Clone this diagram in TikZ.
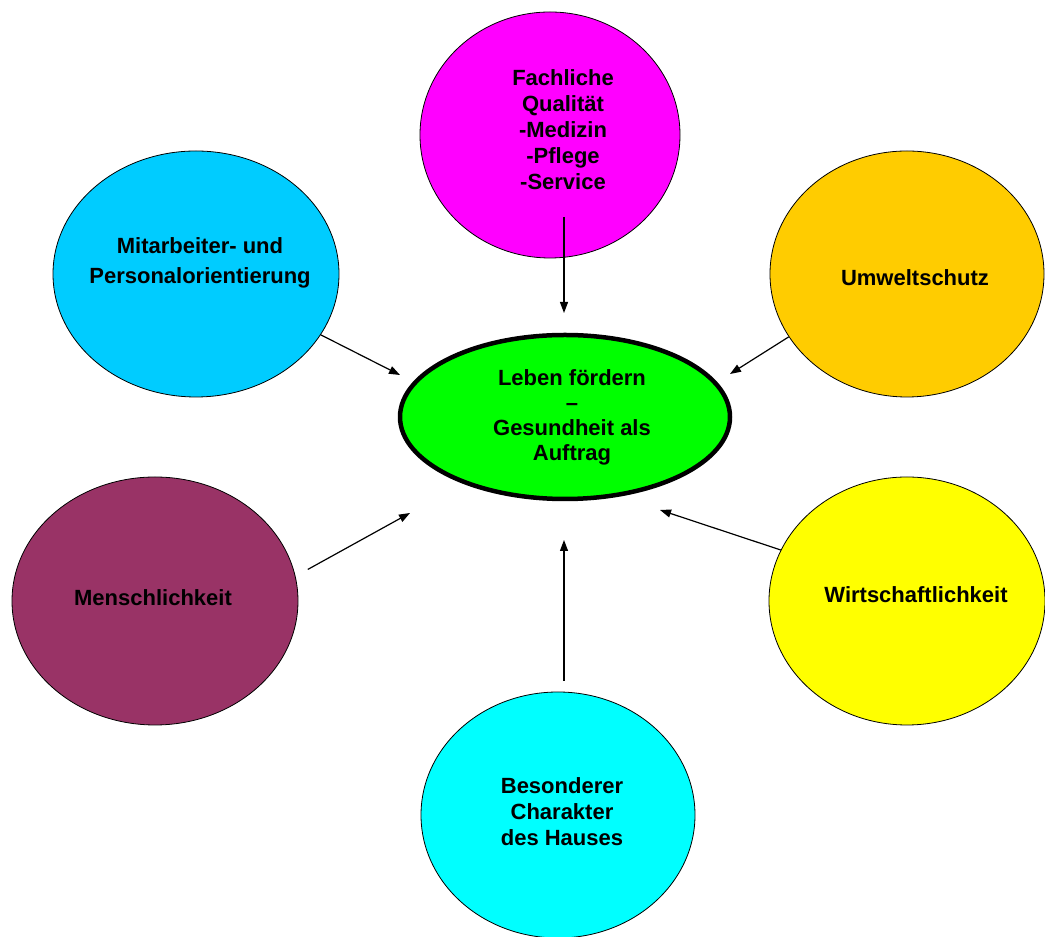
\documentclass[tikz,border=0pt]{standalone}
\usepackage{fontspec}
\setmainfont{Liberation Sans}
\usetikzlibrary{shapes.geometric,arrows.meta,calc}
\definecolor{cMag}{HTML}{FF00FF}
\definecolor{cBlue}{HTML}{00CCFF}
\definecolor{cOrange}{HTML}{FFCC00}
\definecolor{cGreen}{HTML}{00FF00}
\definecolor{cMaroon}{HTML}{993366}
\definecolor{cYellow}{HTML}{FFFF00}
\definecolor{cCyan}{HTML}{00FFFF}
\tikzset{
  bubble/.style={ellipse, draw=black, line width=0.8pt, inner sep=0pt},
  txt/.style={font=\bfseries\fontsize{22}{26}\selectfont, align=center, inner sep=0pt},
  arr/.style={line width=1.2pt, -{Triangle[length=11pt,width=8pt]}}
}
\begin{document}
\begin{tikzpicture}[x=1pt,y=1pt]
\useasboundingbox (0,0) rectangle (1045,937);
\clip (0,0) rectangle (1045,937);
% ellipses
\node[bubble, fill=cMag, minimum width=260pt, minimum height=246pt] (mag) at (550,802) {};
\node[bubble, fill=cBlue, minimum width=286pt, minimum height=246pt] (blue) at (196,663) {};
\node[bubble, fill=cOrange, minimum width=274pt, minimum height=246pt] (orange) at (907,663) {};
\node[bubble, fill=cMaroon, minimum width=286pt, minimum height=248pt] (maroon) at (155,336) {};
\node[bubble, fill=cYellow, minimum width=276pt, minimum height=248pt] (yellow) at (907,336) {};
\node[bubble, fill=cCyan, minimum width=274pt, minimum height=246pt] (cyan) at (558,122) {};
\node[bubble, fill=cGreen, line width=4.5pt, minimum width=330pt, minimum height=164pt] (green) at (565,520) {};
% texts
\node[txt] (magT) at (563,807) {Fachliche\\Qualität\\-Medizin\\-Pflege\\-Service};
\node[txt, font=\bfseries\fontsize{22}{30}\selectfont] (blueT) at (200,674) {Mitarbeiter- und\hspace{20pt}\\Personalorientierung};
\node[txt] (orangeT) at (915,659) {Umweltschutz};
\node[txt] (maroonT) at (153,339) {Menschlichkeit};
\node[txt] (yellowT) at (916,342) {Wirtschaftlichkeit};
\node[txt] (cyanT) at (562,125) {Besonderer\\Charakter\\des Hauses};
\node[txt, font=\bfseries\fontsize{22}{25}\selectfont] (greenT) at (572,520) {Leben fördern\\–\\Gesundheit als\\Auftrag};
% arrow tips
\coordinate (tMag) at (564,624);
\coordinate (tBlue) at (400,562);
\coordinate (tOrange) at (730,563);
\coordinate (tMaroon) at (410,424);
\coordinate (tYellow) at (660,427);
\coordinate (tCyan) at (564,397);
% arrows
\draw[arr] ([xshift=14pt,yshift=41pt]mag.south) -- (tMag);
\draw[arr] (blue.-26.6) -- (tBlue);
\draw[arr] (orange.-152.3) -- (tOrange);
\draw[arr, shorten <=14pt] (maroon.10.6) -- (tMaroon);
\draw[arr] (yellow.158.1) -- (tYellow);
\draw[arr] ([xshift=6pt,yshift=11pt]cyan.north) -- (tCyan);
\end{tikzpicture}
\end{document}
